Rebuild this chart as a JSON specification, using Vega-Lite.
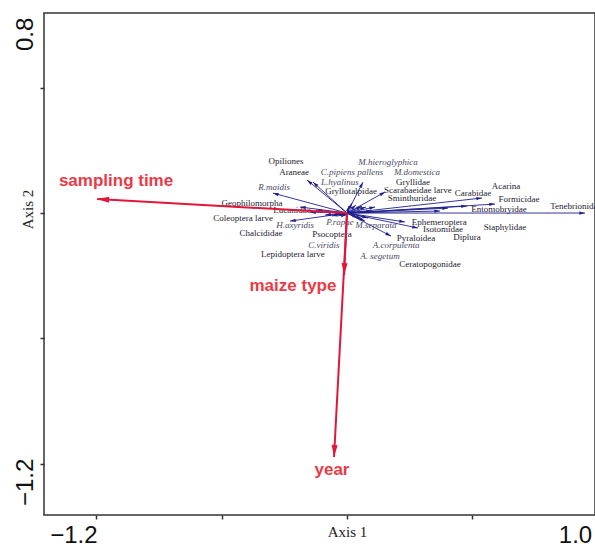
{
  "$schema": "https://vega.github.io/schema/vega-lite/v6.json",
  "width": 551,
  "height": 502,
  "autosize": {"type": "none"},
  "padding": {"left": 44, "top": 13, "right": 0, "bottom": 34},
  "background": "white",
  "config": {"view": {"stroke": "#333", "strokeWidth": 1.5}, "axis": {"grid": false}},
  "datasets": {
    "taxa": [
      {"name": "Opiliones", "x": -0.175, "y": 0.147, "lx": -0.268, "ly": 0.232, "kind": "taxon"},
      {"name": "Araneae", "x": -0.149, "y": 0.138, "lx": -0.232, "ly": 0.183, "kind": "taxon"},
      {"name": "R.maidis", "x": -0.325, "y": 0.089, "lx": -0.32, "ly": 0.116, "kind": "species"},
      {"name": "C.pipiens pallens", "x": 0.022, "y": 0.045, "lx": 0.022, "ly": 0.183, "kind": "species"},
      {"name": "L.hyalinus", "x": 0.07, "y": 0.138, "lx": -0.031, "ly": 0.138, "kind": "species"},
      {"name": "Gryllotalpidae", "x": 0.009, "y": 0.031, "lx": 0.018, "ly": 0.098, "kind": "taxon"},
      {"name": "M.hieroglyphica", "x": 0.039, "y": 0.036, "lx": 0.18, "ly": 0.228, "kind": "species"},
      {"name": "M.domestica", "x": 0.066, "y": 0.031, "lx": 0.307, "ly": 0.183, "kind": "species"},
      {"name": "Gryllidae", "x": 0.083, "y": 0.027, "lx": 0.289, "ly": 0.138, "kind": "taxon"},
      {"name": "Scarabaeidae larve", "x": 0.167, "y": 0.094, "lx": 0.311, "ly": 0.103, "kind": "taxon"},
      {"name": "Sminthuridae", "x": 0.123, "y": 0.027, "lx": 0.285, "ly": 0.067, "kind": "taxon"},
      {"name": "Carabidae", "x": 0.592, "y": 0.067, "lx": 0.553, "ly": 0.089, "kind": "taxon"},
      {"name": "Acarina", "x": 0.526, "y": 0.031, "lx": 0.697, "ly": 0.121, "kind": "taxon"},
      {"name": "Formicidae", "x": 0.649, "y": 0.04, "lx": 0.754, "ly": 0.063, "kind": "taxon"},
      {"name": "Entomobryidae", "x": 0.443, "y": 0.022, "lx": 0.667, "ly": 0.018, "kind": "taxon"},
      {"name": "Tenebrionidae", "x": 1.044, "y": 0.0, "lx": 1.004, "ly": 0.031, "kind": "taxon"},
      {"name": "Staphylidae", "x": 0.408, "y": 0.009, "lx": 0.693, "ly": -0.063, "kind": "taxon"},
      {"name": "Ephemeroptera", "x": 0.254, "y": -0.04, "lx": 0.405, "ly": -0.04, "kind": "taxon"},
      {"name": "Isotomidae", "x": 0.311, "y": -0.067, "lx": 0.421, "ly": -0.071, "kind": "taxon"},
      {"name": "Diplura", "x": 0.11, "y": 0.009, "lx": 0.526, "ly": -0.107, "kind": "taxon"},
      {"name": "Pyraloidea", "x": 0.193, "y": -0.103, "lx": 0.303, "ly": -0.112, "kind": "taxon"},
      {"name": "M.separata", "x": 0.092, "y": -0.022, "lx": 0.127, "ly": -0.054, "kind": "species"},
      {"name": "A.corpulenta", "x": 0.066, "y": -0.027, "lx": 0.215, "ly": -0.143, "kind": "species"},
      {"name": "A. segetum", "x": 0.048, "y": -0.022, "lx": 0.145, "ly": -0.192, "kind": "species"},
      {"name": "Ceratopogonidae", "x": 0.079, "y": -0.036, "lx": 0.364, "ly": -0.228, "kind": "taxon"},
      {"name": "Geophilomorpha", "x": -0.206, "y": 0.027, "lx": -0.417, "ly": 0.045, "kind": "taxon"},
      {"name": "Lucanidae", "x": -0.136, "y": 0.013, "lx": -0.241, "ly": 0.013, "kind": "taxon"},
      {"name": "Coleoptera larve", "x": -0.162, "y": 0.004, "lx": -0.456, "ly": -0.022, "kind": "taxon"},
      {"name": "H.axyridis", "x": -0.25, "y": -0.036, "lx": -0.228, "ly": -0.054, "kind": "species"},
      {"name": "P.rapae", "x": -0.053, "y": -0.004, "lx": -0.031, "ly": -0.04, "kind": "species"},
      {"name": "Chalcididae", "x": -0.096, "y": -0.009, "lx": -0.377, "ly": -0.089, "kind": "taxon"},
      {"name": "Psocoptera", "x": -0.039, "y": -0.013, "lx": -0.066, "ly": -0.094, "kind": "taxon"},
      {"name": "C.viridis", "x": -0.026, "y": -0.018, "lx": -0.101, "ly": -0.143, "kind": "species"},
      {"name": "Lepidoptera larve", "x": -0.066, "y": -0.013, "lx": -0.237, "ly": -0.183, "kind": "taxon"}
    ],
    "env": [
      {"name": "sampling time", "x": -1.096, "y": 0.0625, "lx": -1.013, "ly": 0.143},
      {"name": "maize type", "x": -0.013, "y": -0.277, "lx": -0.237, "ly": -0.326},
      {"name": "year", "x": -0.057, "y": -1.089, "lx": -0.066, "ly": -1.147}
    ]
  },
  "layer": [
    {
      "data": {"name": "taxa"},
      "mark": {"type": "rule", "color": "#1f1f8f", "strokeWidth": 0.9},
      "encoding": {
        "x": {
          "field": "x", "type": "quantitative",
          "scale": {"domain": [-1.329, 1.0877], "nice": false, "zero": false},
          "axis": {
            "title": "Axis 1",
            "values": [-1.2, -1.1, -0.55, 0, 0.55, 1.0],
            "labelExpr": "datum.value == -1.2 ? '\u22121.2' : (datum.value == 1 ? '1.0' : '')",
            "tickOpacity": {"condition": {"test": "datum.value == -1.2 || datum.value == 1", "value": 0}, "value": 1},
            "domain": false,
            "tickColor": "#333", "tickWidth": 1.5, "tickSize": 4,
            "labelFont": "Liberation Sans", "labelFontSize": 24, "labelColor": "#111", "labelPadding": 4,
            "labelFlush": false, "labelOverlap": false, "labelBound": false,
            "titleFont": "Liberation Serif", "titleFontSize": 15, "titleFontWeight": "normal", "titleColor": "#222",
            "titleX": 303, "titleY": 16, "titleBaseline": "middle", "titleAlign": "center"
          }
        },
        "y": {
          "field": "y", "type": "quantitative",
          "scale": {"domain": [-1.348, 0.893], "nice": false, "zero": false},
          "axis": {
            "title": "Axis 2",
            "values": [-1.2, -1.12, -0.56, 0, 0.56, 0.8],
            "labelExpr": "datum.value == -1.2 ? '\u22121.2' : (datum.value == 0.8 ? '0.8' : '')",
            "tickOpacity": {"condition": {"test": "datum.value == -1.2 || datum.value == 0.8", "value": 0}, "value": 1},
            "domain": false,
            "tickColor": "#333", "tickWidth": 1.5, "tickSize": 4,
            "labelFont": "Liberation Sans", "labelFontSize": 24, "labelColor": "#111", "labelPadding": 3,
            "labelAngle": 270, "labelAlign": "center", "labelBaseline": "bottom",
            "labelFlush": false, "labelOverlap": false, "labelBound": false,
            "titleFont": "Liberation Serif", "titleFontSize": 15, "titleFontWeight": "normal", "titleColor": "#222",
            "titleX": -17, "titleY": 196, "titleAngle": 270, "titleBaseline": "middle", "titleAlign": "center"
          }
        },
        "x2": {"datum": 0},
        "y2": {"datum": 0}
      }
    },
    {
      "mark": {"type": "rule", "color": "#333", "strokeDash": [2, 2], "strokeWidth": 0.9},
      "encoding": {"x": {"datum": 0}}
    },
    {
      "mark": {"type": "rule", "color": "#333", "strokeDash": [2, 2], "strokeWidth": 0.9},
      "encoding": {"y": {"datum": 0}}
    },
    {
      "data": {"name": "taxa"},
      "transform": [{"calculate": "atan2(datum.x, datum.y) * 180 / PI", "as": "ang"}],
      "mark": {"type": "point", "shape": "M0,0L-0.35,1.2L0.35,1.2Z", "filled": true, "color": "#1f1f8f", "size": 90, "opacity": 1},
      "encoding": {
        "x": {"field": "x", "type": "quantitative"},
        "y": {"field": "y", "type": "quantitative"},
        "angle": {"field": "ang", "type": "quantitative", "scale": null}
      }
    },
    {
      "data": {"name": "taxa"},
      "transform": [{"filter": "datum.kind == 'taxon'"}],
      "mark": {"type": "text", "font": "Liberation Serif", "fontSize": 9, "color": "#1c1c30", "clip": true},
      "encoding": {
        "x": {"field": "lx", "type": "quantitative"},
        "y": {"field": "ly", "type": "quantitative"},
        "text": {"field": "name"}
      }
    },
    {
      "data": {"name": "taxa"},
      "transform": [{"filter": "datum.kind == 'species'"}],
      "mark": {"type": "text", "font": "Liberation Serif", "fontSize": 9, "fontStyle": "italic", "color": "#4a4a64", "clip": true},
      "encoding": {
        "x": {"field": "lx", "type": "quantitative"},
        "y": {"field": "ly", "type": "quantitative"},
        "text": {"field": "name"}
      }
    },
    {
      "data": {"name": "env"},
      "mark": {"type": "rule", "color": "#e0163a", "strokeWidth": 2},
      "encoding": {
        "x": {"field": "x", "type": "quantitative"},
        "y": {"field": "y", "type": "quantitative"},
        "x2": {"datum": 0},
        "y2": {"datum": 0}
      }
    },
    {
      "data": {"name": "env"},
      "transform": [{"calculate": "atan2(datum.x, datum.y) * 180 / PI", "as": "ang"}],
      "mark": {"type": "point", "shape": "M0,0L-0.3,1.2L0.3,1.2Z", "filled": true, "color": "#e0163a", "size": 400, "opacity": 1},
      "encoding": {
        "x": {"field": "x", "type": "quantitative"},
        "y": {"field": "y", "type": "quantitative"},
        "angle": {"field": "ang", "type": "quantitative", "scale": null}
      }
    },
    {
      "data": {"name": "env"},
      "mark": {"type": "text", "font": "Liberation Sans", "fontSize": 17, "fontWeight": "bold", "color": "#ea3a45"},
      "encoding": {
        "x": {"field": "lx", "type": "quantitative"},
        "y": {"field": "ly", "type": "quantitative"},
        "text": {"field": "name"}
      }
    }
  ]
}
